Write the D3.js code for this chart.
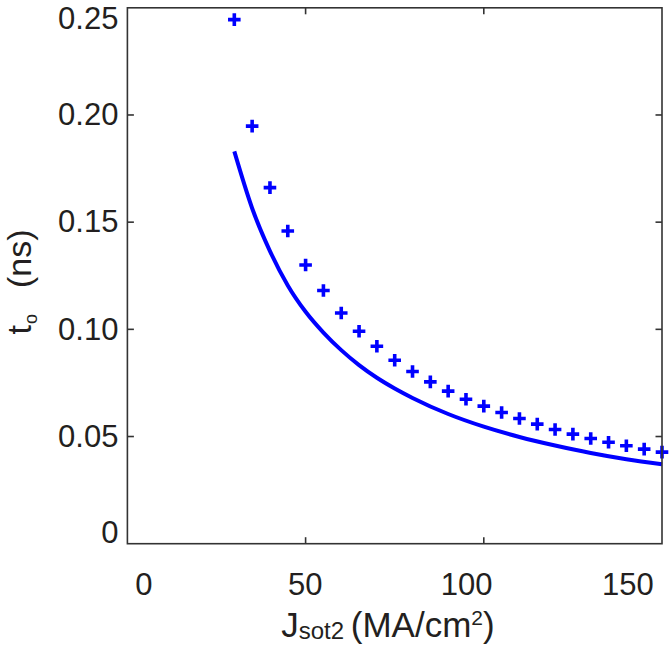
<!DOCTYPE html>
<html>
<head>
<meta charset="utf-8">
<script src="https://cdn.jsdelivr.net/npm/d3@7"></script>
<style>
	body { margin: 0; background: #fff; }
	text { font-family: "Liberation Sans", Arial, sans-serif; fill: #231f20; }
</style>
</head>
<body>
<div class="chart"></div>
<script>
//values
const simJ = [30, 35, 40, 45, 50, 55, 60, 65, 70, 75, 80, 85, 90, 95, 100, 105, 110, 115, 120, 125, 130, 135, 140, 145, 150];
const simT = [0.2445, 0.1948, 0.1661, 0.1459, 0.1300, 0.1181, 0.1076, 0.0991, 0.0921, 0.0856, 0.0803, 0.0755, 0.0712, 0.0674, 0.0642, 0.0612, 0.0584, 0.0558, 0.0533, 0.0511, 0.0491, 0.0473, 0.0457, 0.0441, 0.0427];

const modelJ = [30, 35, 40, 45, 50, 55, 60, 65, 70, 75, 80, 90, 100, 110, 120, 130, 140, 150];
const modelT = [0.1830, 0.1565, 0.1365, 0.1205, 0.1082, 0.0985, 0.0903, 0.0833, 0.0774, 0.0724, 0.0680, 0.0605, 0.0546, 0.0498, 0.0458, 0.0423, 0.0394, 0.0371];

const xTicks = [0, 50, 100, 150];
const yTicks = [0, 0.05, 0.10, 0.15, 0.20, 0.25];

const W = 669, H = 650;
const margin = { top: 7.8, right: 7, bottom: 106.3, left: 127.4 };
const width = W - margin.left - margin.right;
const height = H - margin.top - margin.bottom;
const blue = '#0000ff';
const axisColor = '#333';

const x = d3.scaleLinear().domain([0, 150]).range([0, width]);
const y = d3.scaleLinear().domain([0, 0.25]).range([height, 0]);
//tick labels sit a bit inside the tick marks in the original
const xLabel = d3.scaleLinear().domain([0, 150]).range([144 - margin.left, 628 - margin.left]);

const svg = d3.select('.chart')
	.append('svg')
	.attr('width', W)
	.attr('height', H)
	.append('g')
	.attr('transform', `translate(${margin.left}, ${margin.top})`);

//line (model)
const line = d3.line()
	.x((d, i) => x(modelJ[i]))
	.y((d) => y(d))
	.curve(d3.curveMonotoneX);

svg.append('path')
	.datum(modelT)
	.attr('d', line)
	.attr('fill', 'none')
	.attr('stroke', blue)
	.attr('stroke-width', 4);

//plus markers (simulation)
svg.selectAll('.plus')
	.data(simT)
	.enter()
	.append('path')
	.attr('class', 'plus')
	.attr('transform', (d, i) => `translate(${x(simJ[i])}, ${y(d)})`)
	.attr('d', 'M-6.3,0H6.3M0,-6.3V6.3')
	.attr('stroke', blue)
	.attr('stroke-width', 3.6)
	.attr('fill', 'none');

//frame + inward ticks
const frame = svg.append('g').attr('stroke', axisColor).attr('stroke-width', 1.6).attr('fill', 'none');
frame.append('rect').attr('x', 0).attr('y', 0).attr('width', width).attr('height', height);

const tickLen = 6.5;
xTicks.slice(1, -1).forEach((t) => {
	frame.append('line').attr('x1', x(t)).attr('x2', x(t)).attr('y1', height).attr('y2', height - tickLen);
	frame.append('line').attr('x1', x(t)).attr('x2', x(t)).attr('y1', 0).attr('y2', tickLen);
});
yTicks.slice(1, -1).forEach((t) => {
	frame.append('line').attr('y1', y(t)).attr('y2', y(t)).attr('x1', 0).attr('x2', tickLen);
	frame.append('line').attr('y1', y(t)).attr('y2', y(t)).attr('x1', width).attr('x2', width - tickLen);
});

//x tick labels
svg.selectAll('.xlab')
	.data(xTicks)
	.enter()
	.append('text')
	.attr('class', 'xlab')
	.attr('x', (d) => xLabel(d))
	.attr('y', height + 51)
	.attr('text-anchor', 'middle')
	.style('font-size', '31px')
	.text((d) => d);

//y tick labels (the end ones are nudged inside, as in the original)
svg.selectAll('.ylab')
	.data(yTicks)
	.enter()
	.append('text')
	.attr('class', 'ylab')
	.attr('x', -9)
	.attr('y', (d) => y(d) + (d === 0 ? -10.5 : d === 0.25 ? 11 : 0))
	.attr('dy', '0.33em')
	.attr('text-anchor', 'end')
	.style('font-size', '31px')
	.text((d) => (d === 0 ? '0' : d3.format('.2f')(d)));

//x axis title
const xt = svg.append('text')
	.attr('x', 388 - margin.left)
	.attr('y', 637 - margin.top)
	.attr('text-anchor', 'middle')
	.style('font-size', '35px');
xt.append('tspan').text('J');
xt.append('tspan').attr('dy', 2).style('font-size', '24px').text('sot2 ');
xt.append('tspan').attr('dy', -2).text('(MA/cm');
xt.append('tspan').attr('dy', -12).style('font-size', '21px').text('2');
xt.append('tspan').attr('dy', 12).text(')');

//y axis title
const yt = svg.append('text')
	.attr('transform', `translate(${31 - margin.left}, ${282 - margin.top}) rotate(-90)`)
	.attr('text-anchor', 'middle')
	.style('font-size', '34px');
yt.append('tspan').text('t');
yt.append('tspan').attr('dy', 6).attr('dx', 1).style('font-size', '18px').text('o');
yt.append('tspan').attr('dy', -6).attr('dx', 26).text('(ns)');
</script>
</body>
</html>
